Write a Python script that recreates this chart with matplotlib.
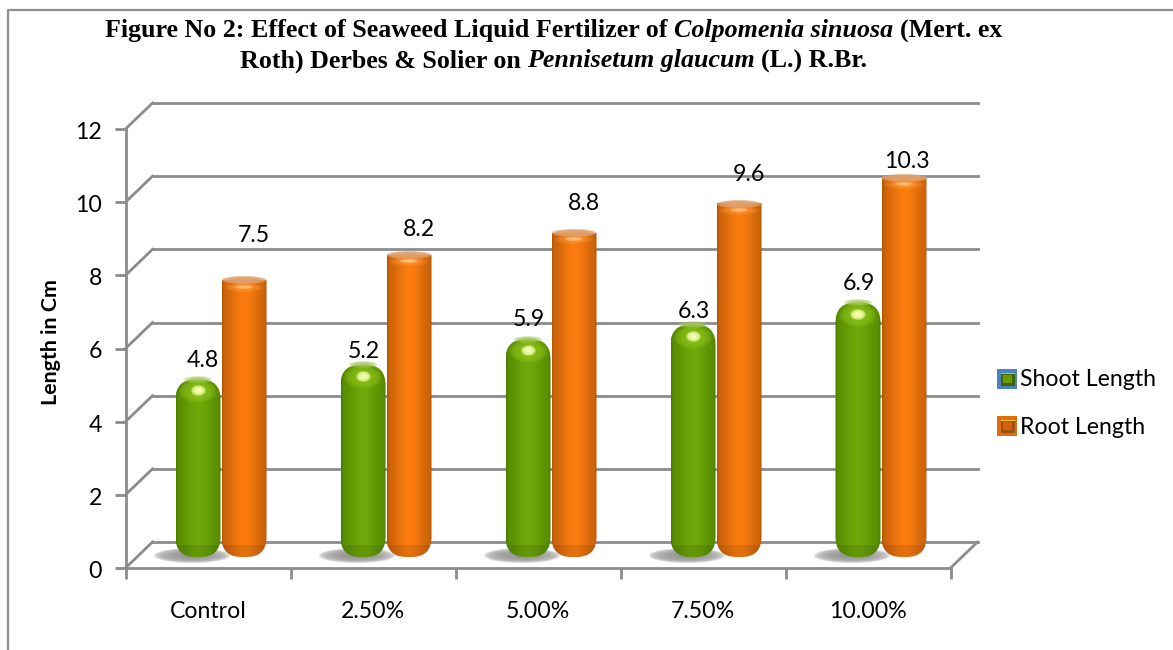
import matplotlib
matplotlib.use("Agg")
import matplotlib.pyplot as plt
import numpy as np
from matplotlib.colors import to_rgb
from matplotlib.patches import FancyBboxPatch, Rectangle
from matplotlib.transforms import Affine2D

categories = ["Control", "2.50%", "5.00%", "7.50%", "10.00%"]
shoot_length = [4.8, 5.2, 5.9, 6.3, 6.9]
root_length = [7.5, 8.2, 8.8, 9.6, 10.3]
y_ticks = [0, 2, 4, 6, 8, 10, 12]
shoot_nudge = [(4, 20), (0, 14), (0, 21), (0, 14), (0, 20)]
root_nudge = [(9, 46), (9, 27), (9, 31), (9, 30), (2, 18)]

W, H = 1173, 650
plt.rcParams["font.family"] = ["Lato", "DejaVu Sans"]
fig = plt.figure(figsize=(W / 100, H / 100), dpi=100, facecolor="white")
ax = fig.add_axes([125.5 / W, 1 - 568 / H, 825 / W, 439 / H])
ax.set_xlim(0, 5)
ax.set_ylim(0, 12)
ax.patch.set_visible(False)
for s in ax.spines.values():
    s.set_visible(False)

PX_X, PX_Y = 165.0, 36.58
GRID = "#8c8c8c"
DX, DY = 27, 26
FS = 16.7
back = ax.transData + Affine2D().translate(DX, DY)
mid = ax.transData + Affine2D().translate(DX / 2, DY / 2)

# outer frame
fig.add_artist(plt.Line2D([8 / W, 8 / W, 1], [0, 1 - 10 / H, 1 - 10 / H], color="#8f8f8f", lw=1.6,
                          transform=fig.transFigure))

# walls, expressed in data units so that they follow the scales
ddx, ddy = DX / PX_X, DY / PX_Y
for t in y_ticks:
    ax.plot([0, 5], [t, t], transform=back, color=GRID, lw=2, clip_on=False, zorder=1)
    ax.plot([0, ddx], [t, t + ddy], color=GRID, lw=2, clip_on=False, zorder=1)
ax.plot([5, 5 + ddx], [0, ddy], color=GRID, lw=2, clip_on=False, zorder=1)
ax.plot([0, 0], [0, 12], color=GRID, lw=2, clip_on=False, zorder=1)
ax.plot([0, 5], [0, 0], color=GRID, lw=2, clip_on=False, zorder=1)

ax.set_xticks(np.arange(6))
ax.set_xticklabels([])
ax.set_yticks(y_ticks)
ax.tick_params(axis="both", color=GRID, width=2, length=8)
ax.tick_params(axis="y", pad=9, labelsize=FS, labelcolor="black")
for lab in ax.get_yticklabels():
    lab.set_transform(lab.get_transform() + Affine2D().translate(0, -1.5))
for i, c in enumerate(categories):
    ax.annotate(c, (i + 0.5, 0), xytext=(0, -43), textcoords="offset pixels",
                ha="center", va="center", fontsize=FS, annotation_clip=False)
ax.set_ylabel("Length in Cm", fontsize=15.4, fontweight="bold", labelpad=10, y=0.515)


def gradient(dark, light):
    pos = np.linspace(0, 1, 64)
    prof = np.exp(-((pos - 0.5) / 0.33) ** 2)
    edge = np.clip(np.minimum(pos, 1 - pos) / 0.05, 0, 1)
    d, l = np.array(to_rgb(dark)), np.array(to_rgb(light))
    img = d[None, :] + (l - d)[None, :] * prof[:, None]
    img = img * (0.88 + 0.12 * edge[:, None])
    return img[None, :, :]


def soft(xc, yc, w_px, h_px, color, peak, zorder, clip=None, power=2.0):
    """Soft-edged ellipse: a colour with a radial alpha falloff, placed in data units."""
    u = np.linspace(-1, 1, 48)
    xx, yy = np.meshgrid(u, u)
    a = peak * np.clip(1 - (xx ** 2 + yy ** 2), 0, 1) ** (1 / power)
    img = np.zeros((48, 48, 4))
    img[..., :3] = to_rgb(color)
    img[..., 3] = a
    im = ax.imshow(img, extent=(xc - w_px / 2 / PX_X, xc + w_px / 2 / PX_X, yc - h_px / 2 / PX_Y, yc + h_px / 2 / PX_Y),
                   aspect="auto", transform=mid, zorder=zorder, interpolation="bilinear")
    im.set_clip_on(False)
    if clip is not None:
        im.set_clip_path(clip)
    return im


def draw(series, offset, dark, light, cap, glow, top_round, shadow):
    w = 45 / PX_X
    base = -2 / PX_Y
    r = 20 / PX_X
    for i, v in enumerate(series):
        x = i + 0.5 + offset
        if shadow:
            soft(x - 6 / PX_X, -1 / PX_Y, 78, 14, "#8a8a8a", 0.9, 2, power=2.6)
        top = v if top_round else v + 3
        box = FancyBboxPatch((x - w / 2, base), w, top - base, boxstyle=f"round,pad=0,rounding_size={r}",
                             mutation_aspect=PX_X / PX_Y, transform=mid, fc="none", ec="none", zorder=3,
                             clip_on=False)
        ax.add_patch(box)
        im = ax.imshow(gradient(dark, light), extent=(x - w / 2, x + w / 2, base, v), aspect="auto",
                       transform=mid, zorder=4, interpolation="bilinear")
        im.set_clip_on(True)
        im.set_clip_path(box)
        shade = Rectangle((x - w / 2, base), w, 12 / PX_Y, transform=mid, fc="black", alpha=0.09, lw=0, zorder=5)
        ax.add_patch(shade)
        shade.set_clip_path(box)
        if top_round:
            soft(x, v - 0.5 / PX_Y, 30, 6, cap, 0.9, 5, clip=box)
            soft(x, v - 13 / PX_Y, 38, 22, "#8fc41c", 0.75, 5, clip=box)
            soft(x, v - 12 / PX_Y, 15, 10, glow, 1.0, 6, power=2.5)
        else:
            soft(x, v, 46, 7.5, cap, 1.0, 5, power=6)
            soft(x, v - 7 / PX_Y, 40, 8, "#ff9a3a", 0.6, 5, clip=box)
            soft(x, v - 6.5 / PX_Y, 20, 3.5, glow, 1.0, 6)


draw(shoot_length, -23.5 / PX_X, "#568a00", "#6ea80a", "#a6c860", "#f6ffb0", True, True)
draw(root_length, 22.5 / PX_X, "#c55f08", "#fb7d10", "#dfa06c", "#ffc080", False, False)
ax.set_xlim(0, 5)
ax.set_ylim(0, 12)

for i in range(len(categories)):
    for vals, off, nudge in ((shoot_length, -23, shoot_nudge), (root_length, 23, root_nudge)):
        ax.annotate(f"{vals[i]}", (i + 0.5 + off / PX_X, vals[i]),
                    xytext=(DX / 2 + nudge[i][0], DY / 2 + nudge[i][1] - 1), textcoords="offset pixels",
                    ha="center", va="center", fontsize=FS, annotation_clip=False, zorder=8)

# legend
for ypx, name, outer, inner, edge, top in [(379, "Shoot Length", "#4f81bd", "#6b9a06", "#3f6600", "#a8c850"),
                                           (426, "Root Length", "#e26b0a", "#d9600a", "#9a5210", "#ffd040")]:
    fig.add_artist(Rectangle((997 / W, 1 - (ypx + 10) / H), 20 / W, 20 / H, transform=fig.transFigure,
                             fc=outer, ec="none"))
    fig.add_artist(Rectangle((1000.5 / W, 1 - (ypx + 7) / H), 14 / W, 13 / H, transform=fig.transFigure,
                             fc=edge, ec="none"))
    fig.add_artist(Rectangle((1003 / W, 1 - (ypx + 4) / H), 9 / W, 8 / H, transform=fig.transFigure,
                             fc=inner, ec="none"))
    fig.add_artist(Rectangle((1000.5 / W, 1 - (ypx - 5) / H), 14 / W, 1.2 / H, transform=fig.transFigure,
                             fc=top, ec="none"))
    fig.text(1020 / W, 1 - (ypx + 1) / H, name, fontsize=FS, ha="left", va="center")

# title: mixed bold and bold-italic runs placed one after another
title_lines = [
    (31, [("Figure No 2: Effect of Seaweed Liquid Fertilizer of ", "normal"),
          ("Colpomenia sinuosa ", "italic"), ("(Mert. ex", "normal")]),
    (61, [("Roth) Derbes & Solier on ", "normal"), ("Pennisetum glaucum ", "italic"), ("(L.) R.Br.", "normal")]),
]
TFS = 18.75
rend = fig.canvas.get_renderer()
for ypx, runs in title_lines:
    items = []
    total = 0
    for s, st in runs:
        t = fig.text(0, 0.5, s + "|", fontsize=TFS, family="Liberation Serif", fontweight="bold", style=st)
        g = fig.text(0, 0.5, "|", fontsize=TFS, family="Liberation Serif", fontweight="bold", style=st)
        wd = t.get_window_extent(rend).width - g.get_window_extent(rend).width
        t.remove()
        g.remove()
        items.append((s, st, wd))
        total += wd
    xpx = 553.5 - total / 2
    for s, st, wd in items:
        fig.text(xpx / W, 1 - ypx / H, s, fontsize=TFS, family="Liberation Serif", fontweight="bold", style=st,
                 ha="left", va="center")
        xpx += wd

fig.savefig("out.png", dpi=100)
